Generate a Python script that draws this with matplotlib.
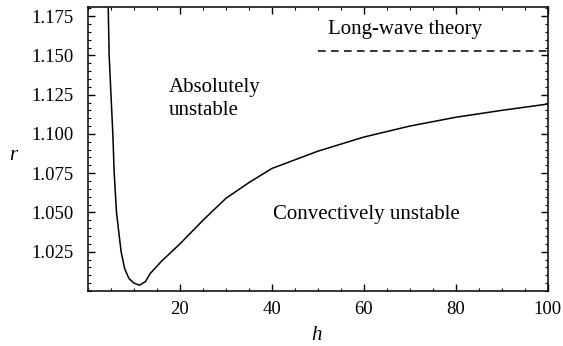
import matplotlib
matplotlib.use("Agg")
import matplotlib.pyplot as plt
from matplotlib.ticker import MultipleLocator, FixedLocator
import numpy as np

h = [4.4, 4.6, 5.0, 5.4, 5.7, 6.2, 7.2, 8.0, 8.9, 10.0, 11.2, 12.5, 13.5, 16, 20, 25, 30, 35, 40, 50, 60, 70, 80, 90, 100]
r = [1.18, 1.15, 1.125, 1.10, 1.075, 1.05, 1.025, 1.014, 1.008, 1.005, 1.0037, 1.006, 1.011, 1.019, 1.030,
     1.045, 1.059, 1.069, 1.078, 1.089, 1.098, 1.105, 1.1106, 1.115, 1.119]
longwave_h = [50, 100]
longwave_r = [1.153, 1.153]
xticks = [20, 40, 60, 80, 100]
yticks = [1.025, 1.050, 1.075, 1.100, 1.125, 1.150, 1.175]
ytick_labels = ["1.025", "1.050", "1.075", "1.100", "1.125", "1.150", "1.175"]

plt.rcParams['font.family'] = ['Liberation Serif', 'DejaVu Serif']
plt.rcParams['mathtext.fontset'] = 'stix'

fig = plt.figure(figsize=(5.63, 3.46), dpi=100)
ax = fig.add_axes([88/563, 1-291/346, (547.7-88)/563, (291-7)/346])

ax.plot(h, r, color='black', lw=1.1)
ax.plot(longwave_h, longwave_r, color='black', lw=1.1, dashes=(5, 3.5))

ax.set_xlim(0, 100)
ax.set_ylim(1.0, 1.1808)
ax.xaxis.set_major_locator(FixedLocator(xticks))
ax.xaxis.set_minor_locator(MultipleLocator(5))
ax.yaxis.set_major_locator(FixedLocator(yticks))
ax.set_yticklabels(ytick_labels)
ax.yaxis.set_minor_locator(MultipleLocator(0.005))
ax.tick_params(which='both', direction='in', top=True, right=True, labelsize=13.5)
ax.tick_params(axis='y', pad=10)
ax.tick_params(axis='x', pad=7)
ax.tick_params(which='major', length=5, width=1)
ax.tick_params(which='minor', length=2.5, width=0.8)
for s in ax.spines.values():
    s.set_linewidth(1.1)

fs = 15
ax.text(17.6, 1.1295, "Absolutely", fontsize=fs, va='center', ha='left')
ax.text(17.6, 1.115, "unstable", fontsize=fs, va='center', ha='left')
ax.text(40.3, 1.0487, "Convectively unstable", fontsize=fs, va='center', ha='left')
ax.text(69, 1.1665, "Long-wave theory", fontsize=fs, va='center', ha='center')

fig.text(13/563, 1-156/346, "r", fontsize=15, style='italic', ha='center', va='center')
fig.text(317/563, 1-336/346, "h", fontsize=15, style='italic', ha='center', va='center')

fig.savefig("out.png", dpi=100)
